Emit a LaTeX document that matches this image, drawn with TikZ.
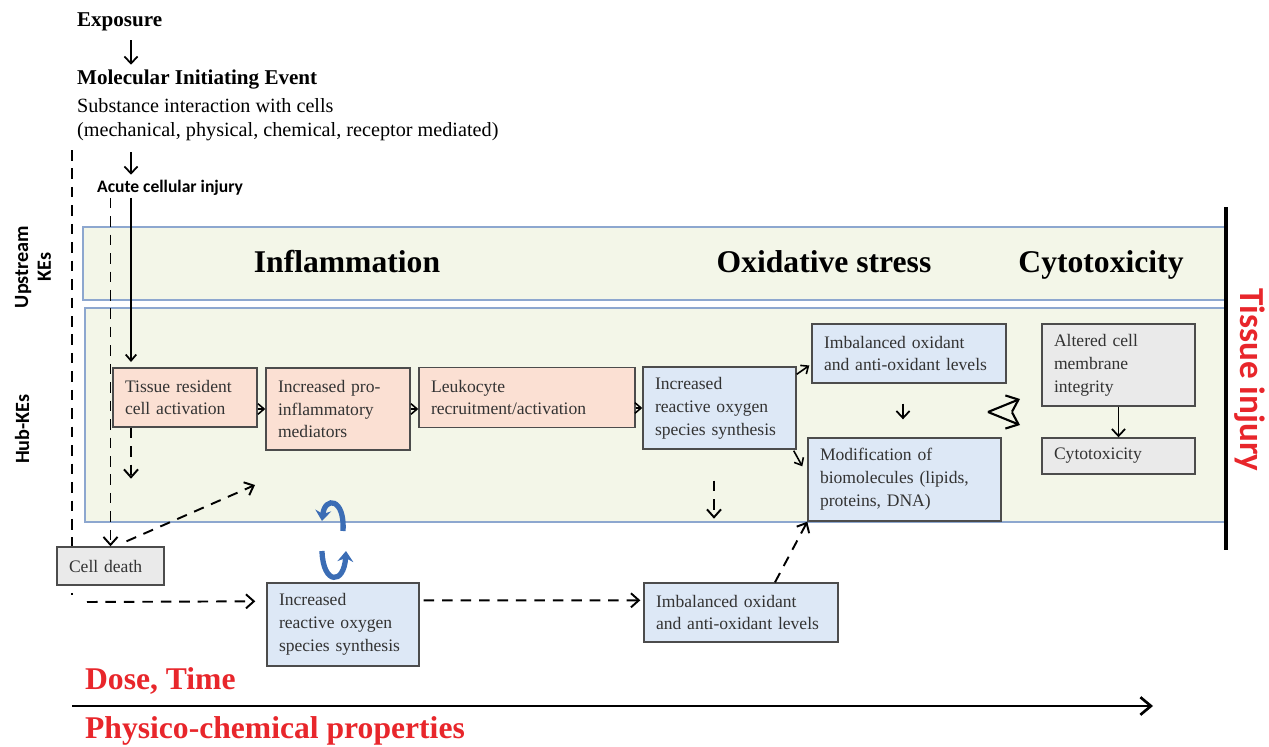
\documentclass[tikz,border=0pt]{standalone}
\usepackage{fontspec}
\setmainfont{Liberation Serif}
\newfontfamily\calibri{Carlito}
\usetikzlibrary{arrows.meta,calc}

\definecolor{bandfill}{HTML}{F3F6E8}
\definecolor{bandline}{HTML}{8DA7CF}
\definecolor{inflfill}{HTML}{FBE0D3}
\definecolor{oxfill}{HTML}{DDE8F6}
\definecolor{cytfill}{HTML}{EAEAEA}
\definecolor{injred}{HTML}{E8262B}
\definecolor{loopblue}{HTML}{3B6DB5}

\tikzset{
  ke/.style={draw=black!70, line width=0.8pt, inner xsep=0.24cm, inner ysep=2pt,
    align=left, text=black!80, font=\fontsize{10}{13}\selectfont},
  infl/.style={ke, fill=inflfill},
  oxid/.style={ke, fill=oxfill},
  cyto/.style={ke, fill=cytfill},
  band/.style={draw=bandline, fill=bandfill, line width=0.9pt},
  lbl/.style={inner sep=1pt, anchor=west},
  head/.style={anchor=base, font=\fontsize{18}{20}\selectfont\bfseries},
  side/.style={font=\calibri\fontsize{11.5}{13}\selectfont\bfseries, align=center, rotate=90},
  redlbl/.style={lbl, text=injred, font=\fontsize{18}{20}\selectfont\bfseries},
  arr/.style={-{Straight Barb[length=3.5pt,width=6pt]}, line width=0.9pt},
  tarr/.style={-{Straight Barb[length=4pt,width=7.5pt]}, line width=1pt},
  barr/.style={-{Straight Barb[length=6pt,width=10pt]}, line width=1.2pt},
  dline/.style={line width=1.1pt, dash pattern=on 6pt off 4.5pt},
  darr/.style={dline, -{Straight Barb[length=4.5pt,width=8pt]}},
  rosloop/.style={draw=loopblue, line width=3pt, -{Stealth[length=6pt,width=9pt]}}
}

\begin{document}
\begin{tikzpicture}[x=0.02cm,y=-0.02cm]
\useasboundingbox (0,0) rectangle (1269,747);

% bands
\draw[band] (83,227) rectangle (1226,300);
\draw[band] (85,308) rectangle (1226,522);
\draw[line width=1.8pt] (1226,207) -- (1226,550);
\draw[dline] (72,150) -- (72,595);

\node[head] (hinf) at (347,272) {Inflammation};
\node[head] (hox) at (824,272) {Oxidative stress};
\node[head] (hcy) at (1101,272) {Cytotoxicity};
\node[side] (ups) at (33,267) {Upstream\\KEs};
\node[side] (hub) at (22,429) {Hub-KEs};
\node[font=\calibri\fontsize{20}{22}\selectfont\bfseries, text=injred, rotate=-90] (tis) at (1250,380) {Tissue injury};

% top texts
\node[lbl, font=\fontsize{12}{14}\selectfont\bfseries] (exp) at (75,22) {Exposure};
\node[lbl, font=\fontsize{12}{14}\selectfont\bfseries] (mie) at (75,80) {Molecular Initiating Event};
\node[lbl, font=\fontsize{11.5}{14}\selectfont] (sub) at (75,106) {Substance interaction with cells};
\node[lbl, font=\fontsize{11.5}{14}\selectfont] (mech) at (75,132) {(mechanical, physical, chemical, receptor mediated)};
\node[lbl, font=\calibri\fontsize{10}{12}\selectfont\bfseries] (aci) at (95,188) {Acute cellular injury};

% key events
\node[infl, text width=2.40cm, minimum height=1.18cm] (tra) at (185,397.5) {Tissue resident\\cell activation};
\node[infl, text width=2.40cm, minimum height=1.64cm] (pim) at (338,409) {Increased pro-\\inflammatory\\mediators};
\node[infl, text width=3.84cm, minimum height=1.2cm] (leu) at (527,397.5) {Leukocyte\\recruitment/activation};
\node[oxid, text width=2.58cm, minimum height=1.64cm] (ros) at (719.5,408) {Increased\\reactive oxygen\\species synthesis};
\node[oxid, text width=3.40cm, minimum height=1.18cm] (imb) at (909,353.5) {Imbalanced oxidant\\and anti-oxidant levels};
\node[oxid, text width=3.38cm, minimum height=1.66cm] (mod) at (904.5,479.5) {Modification of\\biomolecules (lipids,\\proteins, DNA)};
\node[cyto, text width=2.58cm, minimum height=1.64cm] (acm) at (1118.5,365) {Altered cell\\membrane\\integrity};
\node[cyto, text width=2.58cm, minimum height=0.72cm] (cyt) at (1118.5,456) {Cytotoxicity};
\node[cyto, text width=1.66cm, minimum height=0.76cm] (cdt) at (110.5,566) {Cell death};
\node[oxid, text width=2.56cm, minimum height=1.66cm] (ros2) at (343,624.5) {Increased\\reactive oxygen\\species synthesis};
\node[oxid, text width=3.40cm, minimum height=1.18cm] (imb2) at (741,612.5) {Imbalanced oxidant\\and anti-oxidant levels};

% solid arrows
\coordinate (spine) at (131,0);
\draw[tarr, shorten <=4pt, shorten >=2pt] (exp.south -| spine) -- (mie.north -| spine);
\draw[tarr, shorten <=5pt, shorten >=2pt] (mech.south -| spine) -- (aci.north -| spine);
\draw[arr, line width=1pt, shorten >=3pt] (aci.south -| spine) -- (tra.north -| spine);
\draw[arr] (tra.east |- pim.west) -- (pim.west);
\draw[arr] (pim.east) -- (leu.west |- pim.east);
\draw[arr] (leu.east |- ros.west) -- (ros.west);
\draw[arr] ($(ros.north east)+(0,8)$) -- ($(imb.west)+(-2,12)$);
\draw[arr] ($(ros.south east)+(-3,1)$) -- ($(mod.north west)+(-5,29)$);
\draw[tarr] ($(imb.south)+(-6,20)$) -- ($(mod.north)+(-1.5,-18)$);
\draw[tarr] (acm.south) -- (cyt.north);
\coordinate (dv) at (988,412);
\draw[barr] (dv) -- ++(32,-13);
\draw[barr] (dv) -- ++(32,13);

% dashed arrows
\coordinate (cdend) at (255,485);
\draw[darr] (aci.south -| cdt.north) -- (cdt.north);
\draw[darr] (tra.south -| spine) -- ++(0,51);
\draw[darr] ($(cdt.north)+(16,-5)$) -- (cdend);
\draw[darr] (87,602) -- ($(ros2.north west)+(-11,19)$);
\draw[darr] ($(ros2.north east)+(4,18)$) -- ($(imb2.north west)+(-3,18)$);
\draw[darr] ($(imb2.north)+(34,0)$) -- (mod.south west);
\draw[darr] ($(ros.south)+(-5.5,31)$) -- ++(0,38);

% feedback loop
\draw[rosloop] (343,531) .. controls (345,498) and (325,496) .. (322,521);
\draw[rosloop] (322,551) .. controls (323,585) and (344,585) .. (346,551);

% axis
\node[redlbl] (dose) at (83,681) {Dose, Time};
\node[redlbl] (phys) at (83,731) {Physico-chemical properties};
\coordinate (ax0) at (72,706);
\coordinate (ax1) at (1153,706);
\draw[line width=1.5pt, -{Straight Barb[length=6pt,width=10pt]}] (ax0) -- (ax1);
\end{tikzpicture}
\end{document}
